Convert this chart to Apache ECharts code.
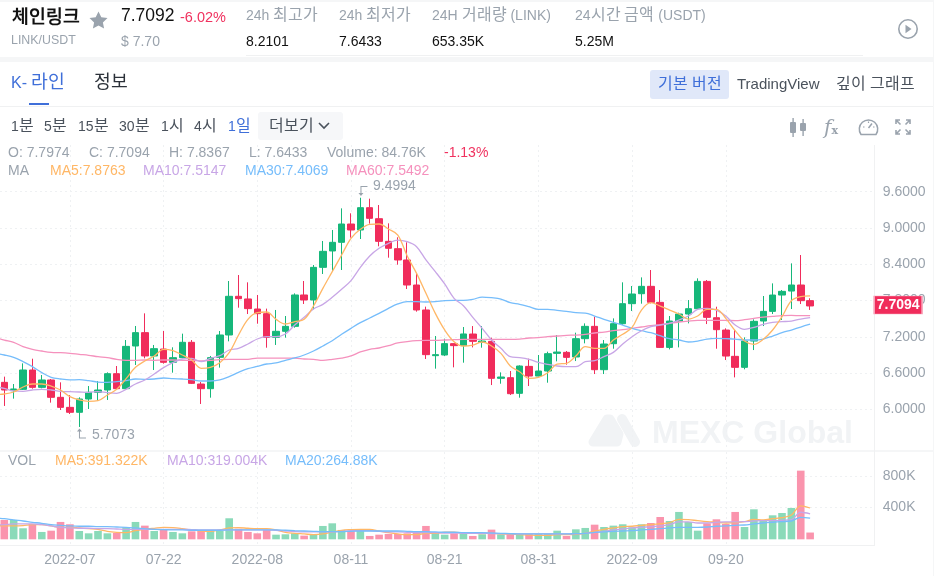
<!DOCTYPE html>
<html lang="ko">
<head>
<meta charset="utf-8">
<title>LINK/USDT</title>
<script src="https://cdn.jsdelivr.net/npm/echarts@6/dist/echarts.min.js"></script>
<style>
  @font-face { font-family: "KRText"; src: local("Noto Sans CJK KR"); size-adjust: 114%; }
  html, body { margin: 0; padding: 0; background: #fff; }
  body { width: 934px; height: 576px; position: relative; overflow: hidden;
         font-family: "Liberation Sans", "KRText", "Noto Sans CJK KR", sans-serif; }
  #chart { position: absolute; left: 0; top: 0; width: 934px; height: 576px; }
  .t { position: absolute; white-space: nowrap; line-height: 1; }
  .band { position: absolute; background: #f5f6f7; }
  .rule { position: absolute; background: #f0f1f2; }
  .grey { color: #9aa3ad; } .dark { color: #2b3139; } .ink { color: #111; } .blue { color: #3f6fd9; }
  .tool { font-size: 14px; color: #4a525c; top: 119px; }
  svg.ic { position: absolute; fill: none; stroke: #9aa3ad; }
</style>
</head>
<body>
<div id="chart"></div>

<div class="band" style="left:0;top:0;width:934px;height:2px"></div>
<div class="band" style="left:0;top:57px;width:934px;height:5px"></div>
<div class="band" style="left:933px;top:0;width:1px;height:576px"></div>
<div class="rule" style="left:246px;top:55px;width:617px;height:1px"></div>
<div class="rule" style="left:0;top:106px;width:933px;height:1px"></div>

<div class="t ink" style="left:12px;top:10px;font-size:16px;font-weight:700">체인링크</div>
<svg class="ic" style="left:89px;top:11px;stroke:none;fill:#9aa3ad" width="19" height="18" viewBox="0 0 19 18"><path d="M9.5 0.5l2.8 5.8 6.2.8-4.6 4.3 1.2 6.2-5.6-3.1-5.6 3.1 1.2-6.2L.5 7.1l6.2-.8z"/></svg>
<div class="t grey" style="left:11px;top:34px;font-size:12.4px">LINK/USDT</div>
<div class="t ink" style="left:121px;top:7px;font-size:17.5px">7.7092</div>
<div class="t" style="left:180px;top:10px;font-size:14.5px;color:#f0325f">-6.02%</div>
<div class="t grey" style="left:121px;top:34px;font-size:14px">$ 7.70</div>
<div class="t grey" style="left:246px;top:8px;font-size:14px">24h 최고가</div>
<div class="t ink" style="left:246px;top:34px;font-size:14px">8.2101</div>
<div class="t grey" style="left:339px;top:8px;font-size:14px">24h 최저가</div>
<div class="t ink" style="left:339px;top:34px;font-size:14px">7.6433</div>
<div class="t grey" style="left:432px;top:8px;font-size:14px">24H 거래량 (LINK)</div>
<div class="t ink" style="left:432px;top:34px;font-size:14px">653.35K</div>
<div class="t grey" style="left:575px;top:8px;font-size:14px">24시간 금액 (USDT)</div>
<div class="t ink" style="left:575px;top:34px;font-size:14px">5.25M</div>
<svg class="ic" style="left:897px;top:18px" width="22" height="22" viewBox="0 0 22 22"><circle cx="11" cy="11" r="9.2" stroke-width="1.6"/><path d="M8.5 6.8l6 4.2-6 4.2z" fill="#9aa3ad" stroke="none"/></svg>

<div class="t blue" style="left:11px;top:75px;font-size:16px">K- 라인</div>
<div style="position:absolute;left:29px;top:103px;width:20px;height:2px;background:#3f6fd9"></div>
<div class="t dark" style="left:94px;top:75px;font-size:16px">정보</div>
<div style="position:absolute;left:650px;top:70px;width:79px;height:29px;background:#e0e8f9;border-radius:3px"></div>
<div class="t blue" style="left:658px;top:77px;font-size:14px">기본 버전</div>
<div class="t" style="left:737px;top:76px;font-size:15px;color:#4a525c">TradingView</div>
<div class="t" style="left:836px;top:77px;font-size:14px;color:#4a525c">깊이 그래프</div>

<div class="t tool" style="left:11px">1분</div>
<div class="t tool" style="left:44px">5분</div>
<div class="t tool" style="left:78px">15분</div>
<div class="t tool" style="left:119px">30분</div>
<div class="t tool" style="left:161px">1시</div>
<div class="t tool" style="left:194px">4시</div>
<div class="t tool blue" style="left:228px;color:#3f6fd9">1일</div>
<div style="position:absolute;left:258px;top:112px;width:85px;height:28px;background:#f6f7f9;border-radius:3px"></div>
<div class="t tool" style="left:269px">더보기</div>
<svg class="ic" style="left:317px;top:121px;stroke:#4a525c" width="14" height="10" viewBox="0 0 14 10"><path d="M2 2l5 5 5-5" stroke-width="1.6"/></svg>
<svg class="ic" style="left:790px;top:118px;stroke:none;fill:#9aa3ad" width="17" height="19" viewBox="0 0 17 19"><rect x="0" y="4" width="6" height="11" rx="1"/><rect x="2.4" y="0" width="1.4" height="19"/><rect x="10" y="5" width="6" height="8" rx="1"/><rect x="12.4" y="1" width="1.4" height="17"/></svg>
<div class="t grey" style="left:824px;top:117px;font-size:20px;font-style:italic;font-family:'DejaVu Serif',serif">f<span style="font-size:11px;font-style:normal;font-weight:700">x</span></div>
<svg class="ic" style="left:858px;top:117px" width="21" height="20" viewBox="0 0 21 20"><path d="M3 17.5a9.2 9.2 0 1 1 15 0z" stroke-width="1.5"/><path d="M10.5 11l3.5-4.5" stroke-width="1.5"/><path d="M5 10h1.5M15 10h1.5M10.5 4.5V6" stroke-width="1.2"/></svg>
<svg class="ic" style="left:895px;top:119px;stroke:#9aa3ad" width="16" height="16" viewBox="0 0 16 16"><path d="M1 5V1h4M15 5V1h-4M1 11v4h4M15 11v4h-4M1.5 1.5L5.5 5.5M14.5 1.5L10.5 5.5M1.5 14.5L5.5 10.5M14.5 14.5L10.5 10.5" stroke-width="1.6"/></svg>

<script>
// Daily candles, 2022-07-05 to 2022-09-29; 07-04 only feeds the averages at the left edge
const categories = [
  '07-04','07-05','07-06','07-07','07-08','07-09','07-10','07-11','07-12','07-13','07-14','07-15','07-16','07-17','07-18','07-19','07-20','07-21','07-22','07-23','07-24','07-25','07-26','07-27','07-28','07-29','07-30','07-31',
  '08-01','08-02','08-03','08-04','08-05','08-06','08-07','08-08','08-09','08-10','08-11','08-12','08-13','08-14','08-15','08-16','08-17','08-18','08-19','08-20','08-21','08-22','08-23','08-24','08-25','08-26','08-27','08-28','08-29','08-30','08-31',
  '09-01','09-02','09-03','09-04','09-05','09-06','09-07','09-08','09-09','09-10','09-11','09-12','09-13','09-14','09-15','09-16','09-17','09-18','09-19','09-20','09-21','09-22','09-23','09-24','09-25','09-26','09-27','09-28','09-29',
  'p1','p2','p3','p4','p5','p6','p7'
];
const timeLabels = { '07-12':'2022-07', '07-22':'07-22', '08-01':'2022-08', '08-11':'08-11', '08-21':'08-21', '08-31':'08-31', '09-10':'2022-09', '09-20':'09-20' };

const opens = ['-',6.446,6.308,6.330,6.650,6.363,6.485,6.198,6.032,5.950,6.170,6.281,6.319,6.589,6.341,7.047,7.268,6.882,6.997,6.777,6.854,7.108,6.418,6.341,6.860,7.229,
  7.869,7.825,7.659,7.582,7.190,7.290,7.372,7.891,7.808,8.348,8.619,8.762,9.065,8.966,9.335,9.153,8.778,8.657,8.470,8.056,7.643,6.887,6.898,7.086,7.053,
  7.245,7.107,7.124,6.512,6.523,6.264,6.710,6.550,6.633,6.925,6.942,6.865,7.168,7.372,6.655,7.085,7.416,7.747,7.912,8.034,7.769,7.024,7.460,7.576,7.664,
  8.116,7.515,7.311,6.876,6.694,7.129,7.460,7.620,7.890,7.956,8.056,7.7974];
const closes = ['-',6.319,6.336,6.650,6.363,6.485,6.198,6.032,5.950,6.170,6.281,6.319,6.589,6.341,7.041,7.268,6.882,7.003,6.777,6.854,7.108,6.429,6.341,6.854,7.229,7.869,
  7.830,7.665,7.582,7.190,7.290,7.372,7.891,7.808,8.348,8.613,8.762,9.065,8.966,9.335,9.159,8.778,8.663,8.470,8.056,7.643,6.904,6.904,7.086,7.053,7.246,
  7.124,7.129,6.512,6.534,6.258,6.716,6.550,6.633,6.920,6.947,6.859,7.168,7.372,6.655,7.080,7.416,7.747,7.907,8.034,7.769,7.024,7.460,7.576,7.664,8.116,
  7.521,7.317,6.881,6.694,7.129,7.455,7.620,7.890,7.951,8.056,7.797,7.7094];
const lows = ['-',6.055,6.176,6.319,6.341,6.347,6.110,5.988,5.922,5.7073,6.005,6.137,6.154,6.319,6.330,6.733,6.843,6.650,6.755,6.606,6.843,6.418,6.088,6.192,6.689,7.124,
  7.681,7.576,7.416,7.019,7.064,7.185,7.350,7.742,7.654,8.238,8.288,8.304,8.839,8.817,9.071,8.696,8.508,8.392,7.990,7.615,6.832,6.672,6.882,6.694,6.771,
  7.024,7.019,6.401,6.423,6.236,6.192,6.385,6.545,6.440,6.793,6.738,6.798,7.091,6.583,6.583,7.002,7.399,7.626,7.747,7.752,7.015,6.991,7.024,7.421,7.659,
  7.410,7.002,6.815,6.528,6.661,6.980,7.377,7.576,7.477,7.659,7.741,7.6433];
const highs = ['-',6.540,6.418,6.760,6.837,6.567,6.501,6.446,6.236,6.198,6.385,6.468,6.611,6.716,7.146,7.378,7.587,7.064,7.295,7.025,7.251,7.146,6.451,6.882,7.295,8.122,
  8.221,8.100,7.891,7.665,7.643,7.543,7.918,8.122,8.387,8.784,8.966,9.324,9.242,9.4994,9.484,9.379,9.076,8.845,8.762,8.238,7.698,7.212,7.168,7.090,7.361,
  7.377,7.377,7.184,6.611,6.633,6.727,6.837,6.898,6.953,7.228,6.964,7.267,7.421,7.532,7.146,7.504,8.100,8.039,8.182,8.304,7.973,7.543,7.598,7.807,8.166,
  8.138,7.697,7.339,7.311,7.190,7.488,7.874,8.083,7.973,8.414,8.552,7.8367];

const ma5 = [6.242,6.253,6.286,6.369,6.418,6.418,6.385,6.319,6.209,6.154,6.132,6.143,6.236,6.330,6.507,6.694,6.799,6.882,6.992,6.970,6.898,6.815,6.678,6.694,6.771,6.937,
  7.229,7.488,7.598,7.609,7.488,7.411,7.450,7.488,7.709,8.001,8.277,8.552,8.828,8.977,9.060,9.065,8.982,8.883,8.536,8.249,7.918,7.587,7.312,7.119,
  7.047,7.063,7.113,7.047,6.925,6.716,6.622,6.512,6.528,6.605,6.749,6.760,6.881,7.036,7.008,7.008,7.146,7.240,7.355,7.642,7.763,7.708,7.642,7.576,7.493,7.543,
  7.653,7.653,7.504,7.300,7.129,7.074,7.157,7.311,7.532,7.796,7.863,7.8763];
const ma10 = [6.374,6.347,6.303,6.297,6.319,6.330,6.319,6.297,6.292,6.286,6.281,6.292,6.275,6.264,6.330,6.418,6.485,6.584,6.689,6.771,6.832,6.843,6.788,6.843,6.887,6.981,
  7.008,7.080,7.163,7.201,7.201,7.246,7.394,7.521,7.659,7.736,7.852,7.984,8.128,8.348,8.536,8.663,8.745,8.800,8.773,8.690,8.470,8.277,8.073,7.836,
  7.714,7.521,7.339,7.146,7.008,6.870,6.854,6.826,6.776,6.743,6.716,6.705,6.705,6.787,6.804,6.870,6.942,7.080,7.201,7.300,7.366,7.394,7.422,7.477,7.543,7.653,
  7.670,7.642,7.543,7.394,7.322,7.355,7.405,7.438,7.449,7.460,7.493,7.5147];
const ma30 = [6.926,6.898,6.860,6.788,6.705,6.606,6.529,6.501,6.485,6.490,6.474,6.451,6.446,6.457,6.474,6.501,6.496,6.501,6.518,6.507,6.501,6.490,6.468,6.468,6.485,6.540,
  6.611,6.672,6.711,6.749,6.766,6.810,6.849,6.898,6.964,7.047,7.135,7.240,7.339,7.433,7.510,7.587,7.670,7.742,7.780,7.780,7.775,7.780,7.797,7.802,
  7.802,7.819,7.857,7.846,7.824,7.763,7.736,7.697,7.653,7.653,7.637,7.620,7.598,7.592,7.543,7.488,7.438,7.394,7.339,7.300,7.267,7.217,7.168,7.146,7.113,7.129,
  7.162,7.173,7.168,7.162,7.146,7.146,7.162,7.212,7.267,7.311,7.361,7.4069];
const ma60 = [7.190,7.146,7.108,7.036,6.992,6.964,6.942,6.937,6.926,6.909,6.893,6.871,6.854,6.826,6.810,6.810,6.815,6.810,6.815,6.815,6.810,6.810,6.799,6.810,6.821,6.826,
  6.826,6.826,6.848,6.848,6.848,6.848,6.848,6.832,6.826,6.810,6.826,6.848,6.882,6.948,6.992,7.014,7.053,7.097,7.119,7.135,7.141,7.141,7.146,7.152,
  7.157,7.157,7.157,7.157,7.157,7.157,7.162,7.179,7.184,7.201,7.212,7.223,7.228,7.240,7.262,7.278,7.300,7.317,7.339,7.361,7.383,7.399,7.422,7.444,7.460,7.471,
  7.471,7.471,7.471,7.466,7.482,7.504,7.526,7.537,7.548,7.554,7.548,7.5492];

// Traded volume and its moving averages, in thousands of LINK
const volumes = ['-',242,242,138,192,92,108,217,188,104,75,104,75,79,150,217,171,104,125,92,75,100,117,104,104,263,133,92,75,117,58,63,75,46,58,167,200,117,104,117,42,58,67,67,75,83,167,83,58,75,75,
  42,63,121,63,75,67,67,67,67,108,42,125,142,183,154,171,188,150,188,204,279,229,342,217,108,200,250,192,342,154,375,233,300,329,392,858,84.76];
const volMa5 = [175,167,167,171,183,183,167,150,150,142,133,125,100,88,83,108,125,138,150,146,133,117,104,100,117,142,146,138,133,133,117,88,75,67,58,67,92,113,121,125,125,104,83,67,58,58,75,75,88,88,79,
  75,71,75,67,63,58,54,50,50,58,58,63,75,104,125,142,158,163,175,183,196,208,250,246,233,221,213,204,208,221,250,242,258,271,304,417,391.322];
const volMa10 = [179,183,192,192,192,183,167,150,142,138,138,133,133,129,125,125,125,125,125,125,125,121,117,117,117,117,117,117,117,117,113,104,96,92,92,92,92,100,108,108,108,100,92,92,88,83,83,83,79,79,75,
  75,75,71,71,67,67,67,67,67,67,67,71,75,88,100,117,129,142,150,158,167,183,217,217,204,204,213,217,217,221,229,233,233,238,246,338,319.004];
const volMa20 = [267,258,242,229,213,200,183,175,167,163,163,158,158,154,150,142,133,125,121,117,117,113,113,113,113,117,117,117,117,117,117,113,108,104,100,96,96,96,100,104,104,104,104,104,100,96,96,92,88,88,83,
  83,83,79,75,71,67,67,67,67,67,67,71,75,88,92,100,104,108,117,125,133,142,150,150,150,154,163,167,175,179,192,204,213,221,229,275,264.88];

const priceTicks = { min: 5.4, max: 10.2, step: 0.6 };
const volumeTicks = { min: 0, max: 800, step: 400 };
const highDay = '08-12', highValue = 9.4994, lowDay = '07-13', lowValue = 5.7073, lastDay = '09-29', lastPrice = 7.7094;

const UP = '#16b77a', DOWN = '#f02c5b', GRID = '#eff1f3', LABEL = '#9aa3ad', MARK = '#f1f3f5';
const MA_ORANGE = '#ffb766', MA_PURPLE = '#c8a6e6', MA_BLUE = '#76bdfb', MA_PINK = '#f591bd';

const dashed = { show: true, lineStyle: { color: GRID, type: [2, 3], width: 1 } };
const candles = opens.map((o, i) => [o, closes[i], lows[i], highs[i]]);

const lineSeries = (name, data, color, xi, yi, width) => ({
  name, type: 'line', data, xAxisIndex: xi, yAxisIndex: yi, smooth: 0.35, showSymbol: false,
  lineStyle: { color, width }, itemStyle: { color }, silent: true, z: 3
});

// Grids 0 and 1 carry the visible value axes; grids 2 and 3 carry the marks and time axis
const option = {
  animation: false,
  grid: [
    { left: 0, width: 874.3, top: 155.4, height: 290.2, outerBoundsMode: 'none' },
    { left: 0, width: 874.3, top: 476, height: 62.7, outerBoundsMode: 'none' },
    { left: -9.755, width: 890.15, top: 145, height: 306, outerBoundsMode: 'none' },
    { left: -9.755, width: 890.15, top: 452, height: 93, outerBoundsMode: 'none' }
  ],
  xAxis: [
    { type: 'category', gridIndex: 0, show: false, data: [''] },
    { type: 'category', gridIndex: 1, show: false, data: [''] },
    { type: 'category', gridIndex: 2, data: categories, boundaryGap: true,
      axisLine: { show: false }, axisTick: { show: false }, axisLabel: { show: false },
      splitLine: { ...dashed, alignWithLabel: true, interval: (i, c) => c in timeLabels } },
    { type: 'category', gridIndex: 3, data: categories, boundaryGap: true,
      axisLine: { show: false }, axisTick: { show: false },
      axisLabel: { color: LABEL, fontSize: 14, fontFamily: 'Liberation Sans', margin: 8,
        interval: (i, c) => c in timeLabels, formatter: c => timeLabels[c] || '', hideOverlap: false },
      splitLine: { ...dashed, alignWithLabel: true, interval: (i, c) => c in timeLabels } }
  ],
  yAxis: [
    { type: 'value', gridIndex: 0, position: 'right', min: priceTicks.min, max: priceTicks.max, interval: priceTicks.step,
      axisLine: { show: false }, axisTick: { show: false },
      axisLabel: { color: LABEL, fontSize: 14, fontFamily: 'Liberation Sans', margin: 8.5, showMinLabel: false, showMaxLabel: false, formatter: v => v.toFixed(4) },
      splitLine: { ...dashed, showMinLine: false, showMaxLine: false } },
    { type: 'value', gridIndex: 1, position: 'right', min: volumeTicks.min, max: volumeTicks.max, interval: volumeTicks.step,
      axisLine: { show: false }, axisTick: { show: false },
      axisLabel: { color: LABEL, fontSize: 14, fontFamily: 'Liberation Sans', margin: 8.5, showMinLabel: false, formatter: v => v + 'K' },
      splitLine: { ...dashed, showMinLine: false } },
    { type: 'value', gridIndex: 2, show: false, min: 5.31, max: 10.372, splitLine: { show: false } },
    { type: 'value', gridIndex: 3, show: false, min: -71, max: 1091, splitLine: { show: false } }
  ],
  series: [
    { name: 'K', type: 'candlestick', xAxisIndex: 2, yAxisIndex: 2, data: candles, barWidth: 7, z: 2,
      itemStyle: { color: UP, color0: DOWN, borderColor: UP, borderColor0: DOWN, borderWidth: 1 },
      markPoint: {
        silent: true, animation: false,
        data: [
          { coord: [highDay, highValue], symbol: 'path://M0 7L2.5 10L5 7H3V1H9V0H2V7Z', symbolSize: [9, 10], symbolOffset: [2.6, -6.8],
            itemStyle: { color: LABEL }, label: { show: true, position: 'right', distance: 5.5, offset: [0, -5], color: LABEL, fontSize: 14, fontFamily: 'Liberation Sans', formatter: String(highValue) } },
          { coord: [lowDay, lowValue], symbol: 'path://M0 3L2.5 0L5 3H3V9H9V10H2V3Z', symbolSize: [9, 10], symbolOffset: [2.2, 6.5],
            itemStyle: { color: LABEL }, label: { show: true, position: 'right', distance: 6, offset: [0, 1.5], color: LABEL, fontSize: 14, fontFamily: 'Liberation Sans', formatter: String(lowValue) } },
          { coord: [lastDay, lastPrice], symbol: 'rect', symbolSize: [48, 18], symbolOffset: [88, -1],
            itemStyle: { color: DOWN, borderColor: '#f8a8bd', borderWidth: 1 },
            label: { show: true, position: 'inside', color: '#fff', fontSize: 14, fontWeight: 700, fontFamily: 'Liberation Sans', formatter: lastPrice.toFixed(4) } }
        ]
      } },
    lineSeries('MA60', ma60, MA_PINK, 2, 2, 1.3),
    lineSeries('MA30', ma30, MA_BLUE, 2, 2, 1.3),
    lineSeries('MA10', ma10, MA_PURPLE, 2, 2, 1.3),
    lineSeries('MA5', ma5, MA_ORANGE, 2, 2, 1.3),
    { name: 'VOL', type: 'bar', xAxisIndex: 3, yAxisIndex: 3, barWidth: 7.6, z: 2,
      data: volumes.map((v, i) => ({ value: v, itemStyle: closes[i] >= opens[i]
        ? { color: '#8adab9' }
        : { color: '#fa94ad' } })) },
    lineSeries('VMA5', volMa5, MA_ORANGE, 3, 3, 1.3),
    lineSeries('VMA10', volMa10, MA_PURPLE, 3, 3, 1.3),
    lineSeries('VMA20', volMa20, MA_BLUE, 3, 3, 1.3)
  ],
  graphic: [
    // panel frame
    { type: 'rect', silent: true, z: 1, shape: { x: 0, y: 450, width: 933, height: 2 }, style: { fill: '#f5f6f7' } },
    { type: 'rect', silent: true, z: 1, shape: { x: 0, y: 545, width: 875, height: 1 }, style: { fill: '#f0f1f2' } },
    { type: 'rect', silent: true, z: 1, shape: { x: 874, y: 145, width: 1, height: 400 }, style: { fill: '#f0f1f2' } },
    // watermark
    { type: 'polygon', silent: true, z: 0, shape: { points: [[593, 442], [607, 419], [610, 419], [619, 434], [617, 442]] },
      style: { fill: MARK, stroke: MARK, lineWidth: 9, lineJoin: 'round' } },
    { type: 'polyline', silent: true, z: 0, shape: { points: [[622, 419], [635, 442]] },
      style: { fill: 'none', stroke: MARK, lineWidth: 10, lineCap: 'round' } },
    { type: 'text', silent: true, z: 0, style: { x: 652, y: 434, text: 'MEXC Global', fill: MARK, font: '700 32px "Liberation Sans"', textVerticalAlign: 'middle' } },
    // readouts above each panel
    ...[
      ['O: 7.7974', 8, 153, LABEL], ['C: 7.7094', 89, 153, LABEL], ['H: 7.8367', 169, 153, LABEL], ['L: 7.6433', 249, 153, LABEL],
      ['Volume: 84.76K', 327, 153, LABEL], ['-1.13%', 444, 153, '#f0325f'],
      ['MA', 8, 171, LABEL], ['MA5:7.8763', 50, 171, MA_ORANGE], ['MA10:7.5147', 143, 171, MA_PURPLE], ['MA30:7.4069', 245, 171, MA_BLUE], ['MA60:7.5492', 346, 171, MA_PINK],
      ['VOL', 8, 461, LABEL], ['MA5:391.322K', 55, 461, MA_ORANGE], ['MA10:319.004K', 167, 461, MA_PURPLE], ['MA20:264.88K', 285, 461, MA_BLUE]
    ].map(([text, x, y, fill]) => ({ type: 'text', silent: true, z: 6,
      style: { x, y, text, fill, font: '14px "Liberation Sans"', textVerticalAlign: 'middle' } }))
  ]
};

echarts.init(document.getElementById('chart')).setOption(option);
</script>
</body>
</html>
